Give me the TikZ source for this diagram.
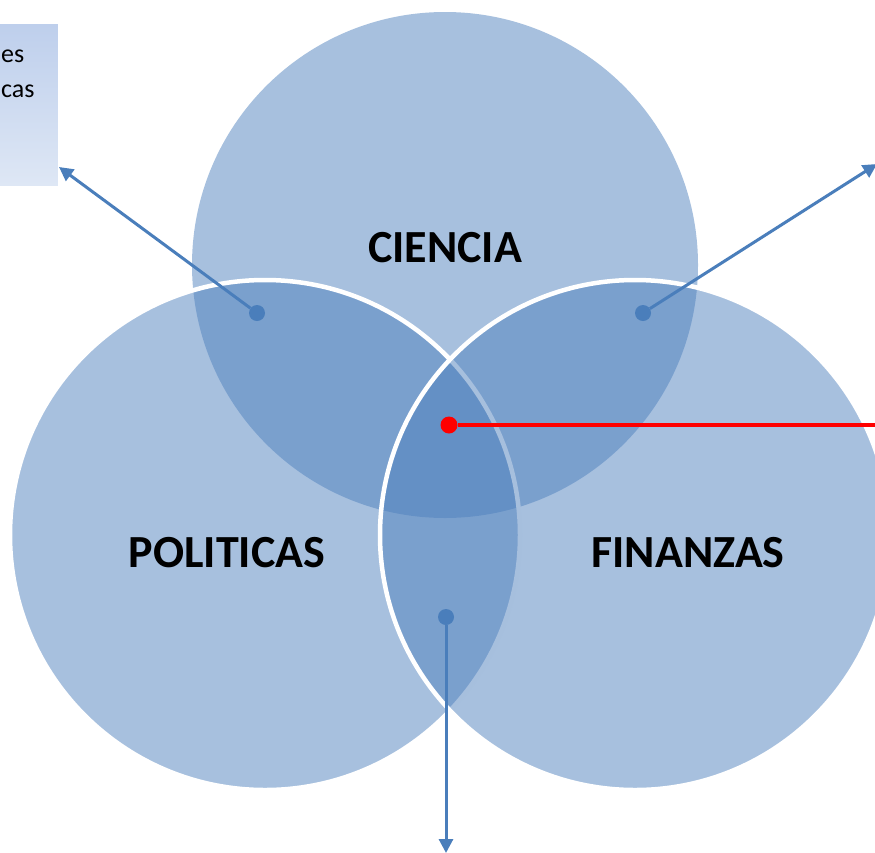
\documentclass[tikz,border=0pt]{standalone}
\usepackage{fontspec}
\setmainfont{Carlito}
\usetikzlibrary{arrows.meta, positioning, shapes.geometric}
\definecolor{vennBlue}{RGB}{79, 129, 189}
\definecolor{dotBlue}{RGB}{74, 126, 187}
\definecolor{boxTop}{RGB}{190, 207, 236}
\definecolor{boxBottom}{RGB}{222, 231, 245}

\begin{document}
\begin{tikzpicture}[x=1pt, y=-1pt,
    venn/.style={fill=vennBlue, fill opacity=0.5},
    vennline/.style={draw=white, line width=4.5pt},
    dotnode/.style={circle, fill=dotBlue, inner sep=0pt, minimum size=16pt},
    pointer/.style={-{Triangle[length=14pt, width=14pt]}, line width=3pt, dotBlue},
    setlabel/.style={font=\fontsize{46}{50}\selectfont\bfseries, text=black},
    notetext/.style={anchor=base west, inner sep=0pt, font=\fontsize{26}{31}\selectfont}]
    \useasboundingbox (0,0) rectangle (875,852);
    \clip (0,0) rectangle (875,852);

    % the three sets
    \fill[venn] (445,265) circle (253pt);
    \draw[venn, vennline] (265,535) circle (255pt);
    \draw[venn, vennline] (635,535) circle (255pt);

    \node[setlabel] (ciencia) at (445,248) {CIENCIA};
    \node[setlabel] (politicas) at (227,553) {POLITICAS};
    \node[setlabel] (finanzas) at (688,553) {FINANZAS};

    % note box at the left border
    \node[draw=none, top color=boxTop, bottom color=boxBottom, minimum width=70pt, minimum height=161pt, anchor=north east, inner sep=0pt] (notebox) at (58,24) {};
    \node[notetext] (noteA) at (1,62) {es};
    \node[notetext] (noteB) at (1,97) {cas};

    % intersection markers
    \node[dotnode] (cp) at (257,313) {};
    \node[dotnode] (cf) at (643,313) {};
    \node[dotnode] (pf) at (446,617) {};
    \node[circle, fill=red, inner sep=0pt, minimum size=17pt] (all) at (449,425) {};

    \coordinate (cpEnd) at (59,167);
    \coordinate (cfEnd) at (877,164);
    \coordinate (pfEnd) at (446,853);
    \coordinate (allEnd) at (880,425);

    \draw[pointer] (cp) -- (cpEnd);
    \draw[pointer] (cf) -- (cfEnd);
    \draw[pointer] (pf) -- (pfEnd);
    \draw[line width=4pt, red] (all) -- (allEnd);
\end{tikzpicture}
\end{document}
